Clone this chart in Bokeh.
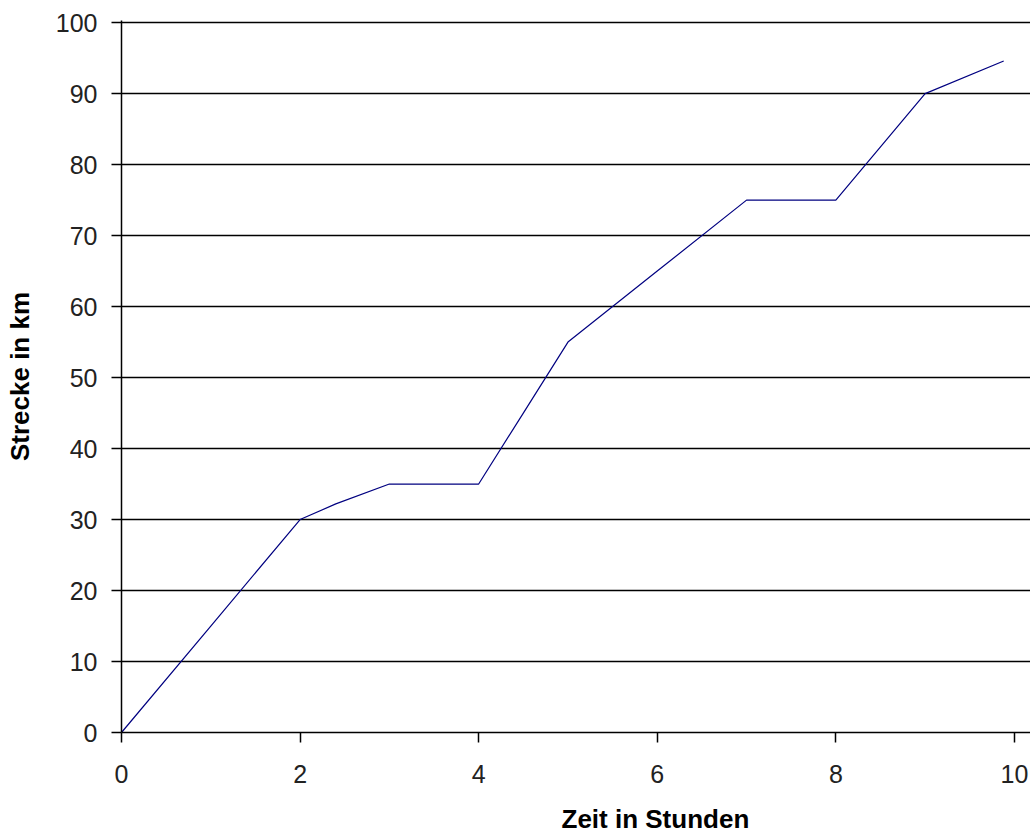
from bokeh.plotting import figure
from bokeh.models import Range1d, FixedTicker, Title
from bokeh.embed import file_html
from bokeh.resources import INLINE

# Data
zeit = [0, 1, 2, 2.4, 3, 4, 4.5, 5, 6, 7, 8, 9, 9.88]
strecke = [0, 15, 30, 32.2, 35, 35, 45, 55, 65, 75, 75, 90, 94.6]
x_ticks = [0, 2, 4, 6, 8, 10]
y_ticks = [0, 10, 20, 30, 40, 50, 60, 70, 80, 90, 100]
x_title = "Zeit in Stunden"
y_title = "Strecke in km"

p = figure(width=1030, height=833, output_backend="svg", toolbar_location=None,
           x_range=Range1d(0, 10.18), y_range=Range1d(0, 100.3),
           min_border_left=121, min_border_right=0, min_border_top=20,
           min_border_bottom=101, background_fill_color="white",
           border_fill_color="white")
p.outline_line_color = None

p.line(zeit, strecke, line_color="#000080", line_width=1.2)

p.xgrid.grid_line_color = None
p.ygrid.grid_line_color = "black"
p.ygrid.grid_line_width = 1.5
p.ygrid.ticker = FixedTicker(ticks=y_ticks)

for ax in (p.xaxis[0], p.yaxis[0]):
    ax.axis_line_color = "black"
    ax.axis_line_width = 1.5
    ax.major_tick_line_color = "black"
    ax.major_tick_line_width = 1.5
    ax.major_tick_out = 10
    ax.major_tick_in = 0
    ax.minor_tick_line_color = None
    ax.major_label_text_font = "Liberation Sans"
    ax.major_label_text_font_size = "25px"
    ax.major_label_text_color = "#222222"

p.xaxis.ticker = FixedTicker(ticks=x_ticks)
p.yaxis.ticker = FixedTicker(ticks=y_ticks)
p.xaxis.major_label_standoff = 22
p.yaxis.major_label_standoff = 14

# tiny invisible axis label: only adds vertical room below the tick labels
p.xaxis.axis_label = " "
p.xaxis.axis_label_text_font_size = "1px"
p.xaxis.axis_label_text_color = None
p.xaxis.axis_label_standoff = 12

p.yaxis.axis_label = y_title
p.yaxis.axis_label_text_font = "Liberation Sans"
p.yaxis.axis_label_text_font_style = "bold"
p.yaxis.axis_label_text_font_size = "26px"
p.yaxis.axis_label_text_color = "black"
p.yaxis.axis_label_standoff = 18

p.add_layout(Title(text=x_title, align="left", offset=440, vertical_align="bottom",
                   text_font="Liberation Sans", text_font_style="bold",
                   text_font_size="26px", text_color="black", standoff=0), "below")

open("out.html", "w").write(file_html(p, INLINE))
